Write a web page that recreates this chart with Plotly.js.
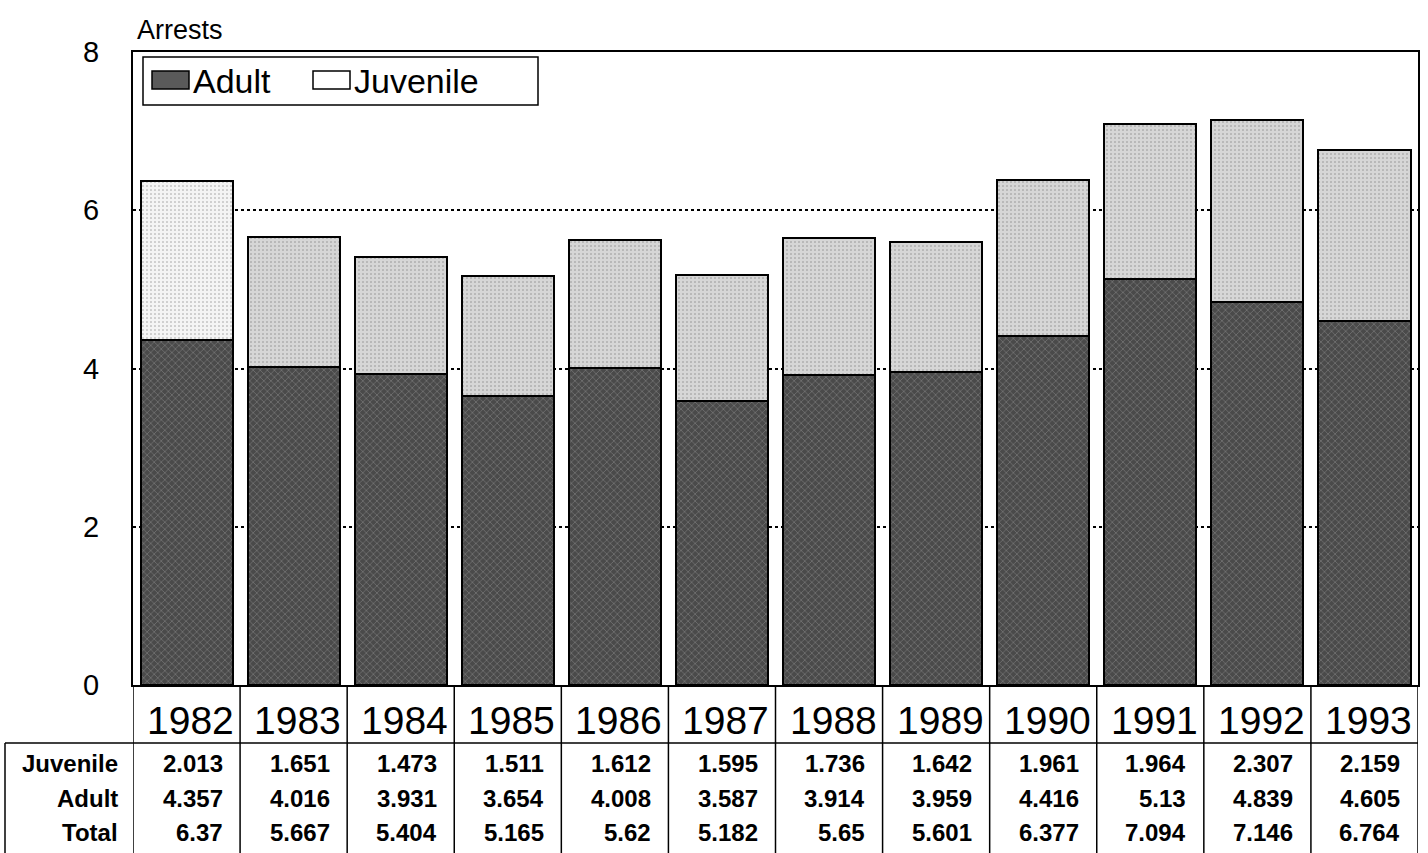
<!DOCTYPE html>
<html>
<head>
<meta charset="utf-8">
<script src="https://cdn.plot.ly/plotly-3.0.1.min.js"></script>
<style>html,body{margin:0;padding:0;background:#fff;}#chart{width:1428px;height:853px;}</style>
</head>
<body>
<div id="chart"></div>
<script>
// ---- data ----
var years = ['1982','1983','1984','1985','1986','1987','1988','1989','1990','1991','1992','1993'];
var juvenile = [2.013, 1.651, 1.473, 1.511, 1.612, 1.595, 1.736, 1.642, 1.961, 1.964, 2.307, 2.159];
var adult = [4.357, 4.016, 3.931, 3.654, 4.008, 3.587, 3.914, 3.959, 4.416, 5.13, 4.839, 4.605];
var total = [6.37, 5.667, 5.404, 5.165, 5.62, 5.182, 5.65, 5.601, 6.377, 7.094, 7.146, 6.764];
var rowNames = ['Juvenile', 'Adult', 'Total'];
var yTicks = [0, 2, 4, 6, 8];

// ---- geometry helpers (pixels -> paper) ----
var W = 1428, H = 853;
var mL = 133, mR = 10, mT = 52, mB = 168;
var plotW = W - mL - mR, plotH = H - mT - mB;
function py(p) { return (H - mB - p) / plotH; }
function px(p) { return (p - mL) / plotW; }

var FONT = 'Arial, "Liberation Sans", sans-serif';
var ADULT_COLOR = '#4a4a4a';

var traces = [
  {
    type: 'bar', name: 'Adult', x: years, y: adult,
    marker: {
      color: ADULT_COLOR,
      line: {color: '#000', width: 2},
      pattern: {shape: 'x', fgcolor: '#a8a8a8', size: 5, solidity: 0.25, fillmode: 'overlay'}
    },
    hoverinfo: 'skip'
  },
  {
    type: 'bar', name: 'Juvenile', x: years, y: juvenile,
    marker: {
      color: years.map(function (y, i) { return i === 0 ? '#f4f4f4' : '#d6d6d6'; }),
      line: {color: '#000', width: 2},
      pattern: {shape: '.', fgcolor: '#6a6a6a', size: 4, solidity: 0.12, fillmode: 'overlay'}
    },
    hoverinfo: 'skip'
  }
];

var shapes = [];
var annotations = [];

// table: vertical dividers at category boundaries
for (var i = 0; i <= years.length; i++) {
  shapes.push({type: 'line', xref: 'x', yref: 'paper', x0: i - 0.5, x1: i - 0.5, y0: 0, y1: py(H), line: {color: '#000', width: 1.5}});
}
// horizontal line below year header
shapes.push({type: 'line', xref: 'paper', yref: 'paper', x0: px(5), x1: 1, y0: py(743), y1: py(743), line: {color: '#000', width: 1.5}});
// left border of row-label column
shapes.push({type: 'line', xref: 'paper', yref: 'paper', x0: px(5), x1: px(5), y0: py(743), y1: py(H), line: {color: '#000', width: 1.5}});

// year headers
years.forEach(function (yr, c) {
  annotations.push({xref: 'x', yref: 'paper', x: c, y: py(720), xshift: 4, text: yr, showarrow: false,
    xanchor: 'center', yanchor: 'middle', font: {family: FONT, size: 39, color: '#000'}});
});
// table rows
var rows = [juvenile, adult, total];
var rowY = [763, 798, 833];
rows.forEach(function (vals, r) {
  annotations.push({xref: 'paper', yref: 'paper', x: px(120), y: py(rowY[r]), text: '<b>' + rowNames[r] + '</b>', showarrow: false,
    xanchor: 'right', yanchor: 'middle', font: {family: FONT, size: 24, color: '#000'}});
  vals.forEach(function (v, c) {
    annotations.push({xref: 'x', yref: 'paper', x: c, y: py(rowY[r]), xshift: 38, text: '<b>' + String(v) + '</b>', showarrow: false,
      xanchor: 'right', yanchor: 'middle', font: {family: FONT, size: 24, color: '#000'}});
  });
});
// axis title
annotations.push({xref: 'paper', yref: 'paper', x: px(135), y: py(30), text: 'Arrests', showarrow: false,
  xanchor: 'left', yanchor: 'middle', font: {family: FONT, size: 27, color: '#000'}});

// legend (drawn manually to match the wide swatches)
shapes.push({type: 'rect', xref: 'paper', yref: 'paper', x0: px(143), x1: px(538), y0: py(105), y1: py(57),
  fillcolor: '#fff', line: {color: '#000', width: 1.5}, layer: 'above'});
shapes.push({type: 'rect', xref: 'paper', yref: 'paper', x0: px(152), x1: px(189), y0: py(89), y1: py(71),
  fillcolor: '#5a5a5a', line: {color: '#000', width: 1.5}, layer: 'above'});
shapes.push({type: 'rect', xref: 'paper', yref: 'paper', x0: px(313), x1: px(350), y0: py(89), y1: py(71),
  fillcolor: '#fff', line: {color: '#000', width: 1.5}, layer: 'above'});
annotations.push({xref: 'paper', yref: 'paper', x: px(191), y: py(81), text: traces[0].name, showarrow: false,
  xanchor: 'left', yanchor: 'middle', font: {family: FONT, size: 34, color: '#000'}});
annotations.push({xref: 'paper', yref: 'paper', x: px(352), y: py(81), text: traces[1].name, showarrow: false,
  xanchor: 'left', yanchor: 'middle', font: {family: FONT, size: 34, color: '#000'}});

var layout = {
  width: W, height: H,
  margin: {l: mL, r: mR, t: mT, b: mB, pad: 0},
  paper_bgcolor: '#fff', plot_bgcolor: '#fff',
  barmode: 'stack', bargap: 0.14,
  showlegend: false,
  xaxis: {
    type: 'category', range: [-0.5, years.length - 0.5], showticklabels: false, ticks: '',
    showgrid: false, showline: true, linecolor: '#000', linewidth: 2, mirror: true, zeroline: false, fixedrange: true
  },
  yaxis: {
    range: [0, 8], tickvals: yTicks, ticktext: yTicks.map(String), ticks: '',
    ticklabelstandoff: 26,
    tickfont: {family: FONT, size: 29, color: '#000'},
    showgrid: true, gridcolor: '#000', gridwidth: 2, griddash: 'dot',
    showline: true, linecolor: '#000', linewidth: 2, mirror: true, zeroline: false, fixedrange: true
  },
  shapes: shapes,
  annotations: annotations
};

Plotly.newPlot('chart', traces, layout, {displayModeBar: false, staticPlot: true});
</script>
</body>
</html>
